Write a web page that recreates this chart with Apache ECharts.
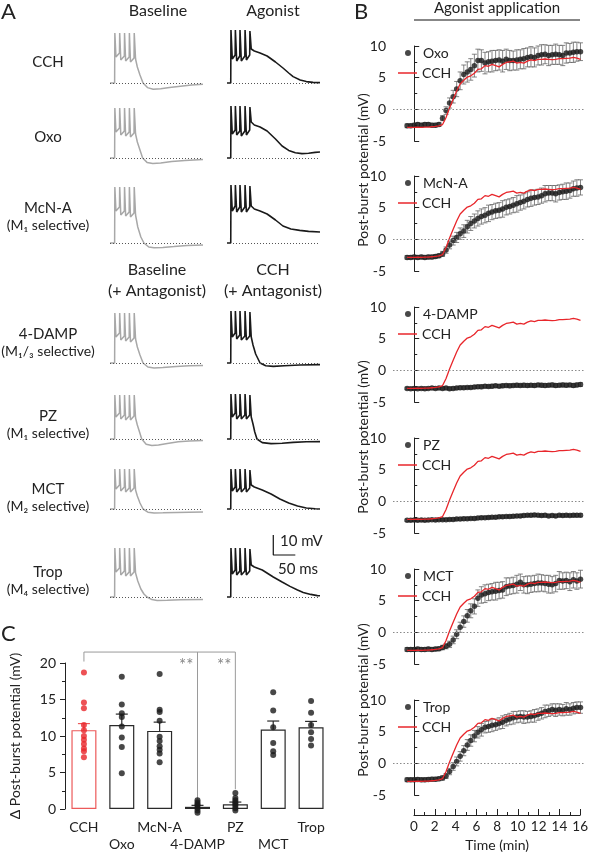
<!DOCTYPE html>
<html><head><meta charset="utf-8">
<script src="https://cdn.jsdelivr.net/npm/echarts@6/dist/echarts.min.js"></script>
<style>html,body{margin:0;padding:0;background:#fff}#c{width:591px;height:853px}</style>
</head><body><div id="c"></div>
<script>
// ---------------- Panel A: example traces (ms, mV relative to rest) ----------------
const traceRowNames = ['CCH','Oxo','McN-A','4-DAMP','PZ','MCT','Trop'];
const baseCCH = [[0,0],[10.5,0],[11,25],[13.5,13],[21.5,15],[22,25],[24.5,11.5],[32.5,13.5],[33,25],[35.5,11],[43.5,13],[44,25],[46.5,10.5],[54.5,12.5],[55,25],[58,12],[62,8],[68,4],[75,0],[85,-2.3],[98,-3.1],[115,-2.9],[135,-2.3],[160,-1.6],[185,-1.0],[211,-0.6]];
const agoCCH = [[0,0],[8.5,0],[9,26.5],[12,12],[18.5,14],[19,26.5],[22,11],[29,13.5],[29.5,26.5],[32.5,11],[40.5,13.5],[41,26.5],[44,11.5],[51.5,14],[52,26],[55,17],[62,16],[75,15],[91,13.5],[110,10.5],[127,7.5],[140,5],[150,3.2],[166,1.5],[180,0.7],[195,0.3],[211,0.2]];
const baseOxo = [[0,0],[10.5,0],[11,25],[13.5,13],[21.5,15],[22,25],[24.5,11.5],[32.5,13.5],[33,25],[35.5,11],[43.5,13],[44,25],[46.5,10.5],[54.5,12.5],[55,25],[58,12],[62,8],[68,4],[74,0],[84,-2.2],[97,-2.7],[115,-2.5],[140,-1.8],[170,-1.2],[211,-0.7]];
const agoOxo = [[0,0],[8.5,0],[9,26],[12,12],[18.5,14],[19,26],[22,11.5],[29,13.5],[29.5,26],[32.5,11],[40.5,13.5],[41,26],[44,11.5],[51.5,14],[52,25.5],[55,18],[62,16.5],[75,15.5],[91,13.5],[110,9.5],[125,6],[140,3.8],[155,2.6],[170,2.2],[185,2.4],[200,2.8],[211,3.0]];
const baseMcnA = [[0,0],[10.5,0],[11,28],[13.5,16],[21.5,18],[22,28],[24.5,14],[32.5,16],[33,28],[35.5,13.5],[43.5,15.5],[44,28],[46.5,13],[54.5,15],[55,28],[58,14],[63,8],[70,3],[77,0],[88,-2],[100,-2.4],[120,-2.2],[145,-1.8],[175,-1.3],[211,-1.0]];
const agoMcnA = [[0,0],[8.5,0],[9,29],[12,16],[18.5,18.5],[19,29],[22,15.5],[29,18],[29.5,29],[32.5,15.5],[40.5,18],[41,29],[44,15.5],[51.5,18],[52,28.5],[55,18.5],[62,17],[75,16],[91,14.5],[110,11.5],[127,8.5],[145,7],[165,6.3],[185,5.8],[211,5.5]];
const baseDamp = [[0,0],[10.5,0],[11,25],[13.5,13],[21.5,15],[22,25],[24.5,11.5],[32.5,13.5],[33,25],[35.5,11],[43.5,13],[44,25],[46.5,10.5],[54.5,12.5],[55,25],[58,12],[62,8],[68,4],[75,0],[86,-2],[100,-2.5],[120,-2.2],[150,-1.7],[180,-1.4],[211,-1.2]];
const agoDamp = [[0,0],[8.5,0],[9,26],[12,13],[18.5,15],[19,26],[22,12],[29,14],[29.5,26],[32.5,11.5],[40.5,13.5],[41,26],[44,11.5],[51.5,13.5],[52,25.5],[55,13],[59,9],[65,4.5],[75,0],[88,-1.4],[105,-1.7],[130,-1.4],[165,-1.0],[211,-0.8]];
const basePz = [[0,0],[10.5,0],[11,22],[13.5,11],[21.5,13],[22,22],[24.5,10],[32.5,12],[33,22],[35.5,9.5],[43.5,11.5],[44,22],[46.5,9.5],[54.5,11.5],[55,22],[58,10.5],[62,7],[67,3.5],[72,0],[82,-2.6],[95,-3.3],[110,-3.0],[130,-2.2],[155,-1.4],[180,-1.0],[211,-0.7]];
const agoPz = [[0,0],[8.5,0],[9,22.5],[12,11],[18.5,13],[19,22.5],[22,10],[29,12],[29.5,22.5],[32.5,10],[40.5,12],[41,22.5],[44,10],[51.5,12],[52,22],[55,11],[59,7.5],[63,3.5],[68,0],[80,-1.8],[100,-2.3],[125,-2.1],[150,-1.7],[180,-1.4],[211,-1.3]];
const baseMct = [[0,0],[10.5,0],[11,20],[13.5,10],[21.5,12],[22,20],[24.5,9],[32.5,11],[33,20],[35.5,8.5],[43.5,10.5],[44,20],[46.5,8.5],[54.5,10.5],[55,20],[58,9.5],[62,6.5],[68,3],[75,0],[86,-1.6],[100,-2.0],[120,-1.9],[150,-1.7],[180,-1.6],[211,-1.5]];
const agoMct = [[0,0],[8.5,0],[9,20],[12,9],[18.5,11],[19,20],[22,8.5],[29,10.5],[29.5,20],[32.5,8.5],[40.5,10.5],[41,20],[44,8.5],[51.5,10.5],[52,19.5],[55,12],[62,11],[80,9.5],[100,7.5],[120,5],[140,3],[160,1.5],[180,0.5],[200,0.1],[211,0]];
const baseTrop = [[0,0],[10.5,0],[11,24.5],[13.5,12.5],[21.5,14.5],[22,24.5],[24.5,11],[32.5,13],[33,24.5],[35.5,10.5],[43.5,12.5],[44,24.5],[46.5,10.5],[54.5,12.5],[55,24.5],[58,12],[63,8],[70,4],[77,1.5],[84,0],[95,-1.3],[107,-1.7],[130,-1.6],[160,-1.4],[211,-1.3]];
const agoTrop = [[0,0],[8.5,0],[9,24.5],[12,11.5],[18.5,13.5],[19,24.5],[22,11],[29,13],[29.5,24.5],[32.5,11],[40.5,13],[41,24.5],[44,11],[51.5,13],[52,24],[55,16],[62,15],[80,13.5],[105,10],[125,7.5],[143,5.3],[160,3.5],[173,2.3],[190,1.3],[205,0.7],[211,0.6]];
const scaleBarMv = 10, scaleBarMs = 50;

// ---------------- Panel B: time courses ----------------
const timeMin = [-0.67,-0.33,0,0.33,0.67,1,1.33,1.67,2,2.33,2.67,3,3.33,3.67,4,4.33,4.67,5,5.33,5.67,6,6.33,6.67,7,7.33,7.67,8,8.33,8.67,9,9.33,9.67,10,10.33,10.67,11,11.33,11.67,12,12.33,12.67,13,13.33,13.67,14,14.33,14.67,15,15.33,15.67];
const cchMean = [-2.85,-2.85,-2.85,-2.8,-2.85,-2.8,-2.8,-2.75,-2.7,-2.6,-2.4,-1.3,0.2,1.6,2.9,4.0,4.6,5.1,5.3,5.7,6.3,6.4,6.9,6.8,7.1,6.9,6.7,7.1,7.4,7.5,7.6,7.3,7.4,7.3,7.6,7.8,7.7,7.9,7.9,7.95,7.9,7.85,7.9,8.0,8.0,8.05,8.1,8.2,8.1,7.9];
const oxoMean = [-2.6,-2.6,-2.5,-2.4,-2.5,-2.4,-2.4,-2.5,-2.5,-2.4,-1.4,-0.2,1.0,2.0,3.2,4.5,5.5,5.9,6.3,6.9,7.7,7.7,7.3,7.5,7.6,7.7,7.8,7.6,7.9,7.7,7.7,7.8,7.9,8.0,8.2,8.3,8.2,8.5,8.6,8.7,8.5,8.6,8.7,8.6,8.5,8.9,8.9,9.0,9.1,9.1];
const oxoSem = [0.3,0.3,0.3,0.3,0.3,0.3,0.3,0.3,0.3,0.3,0.4,0.6,0.8,1.0,1.2,1.4,1.5,1.6,1.7,1.8,1.8,1.7,1.7,1.6,1.7,1.6,1.6,1.7,1.6,1.6,1.5,1.6,1.5,1.6,1.5,1.6,1.5,1.5,1.6,1.5,1.6,1.5,1.6,1.5,1.6,1.6,1.5,1.6,1.5,1.4];
const mcnaMean = [-2.85,-2.85,-2.8,-2.85,-2.8,-2.85,-2.8,-2.8,-2.7,-2.6,-2.3,-1.7,-0.9,-0.2,0.3,0.9,1.3,2.0,2.5,2.9,3.3,3.6,3.8,4.1,4.3,4.5,4.6,4.8,5.05,5.2,5.4,5.6,5.8,6.0,6.3,6.5,6.6,6.7,6.9,7.2,7.3,7.3,7.2,7.4,7.5,7.6,7.7,8.0,8.1,8.2];
const mcnaSem = [0.3,0.3,0.3,0.3,0.3,0.3,0.3,0.3,0.3,0.3,0.4,0.5,0.6,0.7,0.8,0.9,1.0,1.0,1.1,1.1,1.2,1.2,1.2,1.3,1.2,1.2,1.2,1.3,1.2,1.2,1.2,1.3,1.2,1.2,1.2,1.3,1.2,1.2,1.2,1.3,1.2,1.2,1.3,1.2,1.2,1.3,1.2,1.2,1.3,1.2];
const dampMean = [-2.85,-2.9,-2.85,-2.9,-2.85,-2.9,-2.85,-2.8,-2.85,-2.8,-2.85,-2.8,-2.9,-2.85,-2.8,-2.75,-2.75,-2.7,-2.7,-2.65,-2.6,-2.6,-2.5,-2.55,-2.5,-2.45,-2.5,-2.45,-2.4,-2.45,-2.4,-2.35,-2.4,-2.35,-2.4,-2.35,-2.4,-2.3,-2.35,-2.4,-2.35,-2.3,-2.4,-2.35,-2.3,-2.35,-2.3,-2.4,-2.3,-2.25];
const dampSem = [0.2,0.2,0.25,0.2,0.2,0.25,0.2,0.2,0.25,0.2,0.25,0.2,0.25,0.25,0.2,0.25,0.25,0.2,0.25,0.25,0.25,0.3,0.25,0.25,0.3,0.25,0.25,0.3,0.25,0.3,0.25,0.3,0.25,0.3,0.3,0.25,0.3,0.25,0.3,0.3,0.25,0.3,0.3,0.25,0.3,0.3,0.25,0.3,0.3,0.3];
const pzMean = [-3.0,-3.0,-2.95,-3.0,-2.95,-3.0,-2.95,-2.9,-2.95,-2.9,-2.9,-2.9,-2.85,-2.85,-2.8,-2.8,-2.75,-2.75,-2.7,-2.7,-2.65,-2.6,-2.6,-2.55,-2.5,-2.5,-2.45,-2.45,-2.4,-2.4,-2.35,-2.3,-2.3,-2.25,-2.2,-2.2,-2.15,-2.2,-2.25,-2.2,-2.3,-2.25,-2.3,-2.2,-2.25,-2.2,-2.25,-2.2,-2.2,-2.2];
const pzSem = [0.2,0.2,0.2,0.2,0.2,0.2,0.2,0.2,0.2,0.2,0.2,0.2,0.2,0.25,0.2,0.2,0.25,0.2,0.2,0.25,0.2,0.25,0.2,0.25,0.2,0.25,0.2,0.25,0.2,0.25,0.25,0.2,0.25,0.25,0.2,0.25,0.25,0.2,0.25,0.25,0.2,0.25,0.25,0.2,0.25,0.25,0.2,0.25,0.25,0.25];
const mctMean = [-2.7,-2.7,-2.7,-2.65,-2.7,-2.7,-2.65,-2.7,-2.65,-2.6,-2.4,-2.2,-1.9,-1.2,-0.3,0.8,1.7,2.6,3.4,4.1,5.4,5.9,6.1,6.3,6.4,6.5,6.6,6.7,7.2,7.3,7.4,7.6,7.9,7.5,7.5,7.6,7.7,7.8,7.8,7.7,7.6,7.5,7.7,8.2,8.1,8.2,8.0,8.3,8.1,8.4];
const mctSem = [0.3,0.3,0.3,0.3,0.3,0.3,0.3,0.3,0.3,0.3,0.35,0.4,0.5,0.6,0.7,0.8,0.9,1.0,1.1,1.2,1.3,1.3,1.4,1.3,1.3,1.4,1.3,1.3,1.4,1.3,1.3,1.4,1.3,1.3,1.4,1.3,1.3,1.4,1.3,1.3,1.4,1.3,1.3,1.4,1.3,1.3,1.4,1.3,1.3,1.4];
const tropMean = [-2.6,-2.6,-2.6,-2.55,-2.6,-2.6,-2.55,-2.5,-2.5,-2.45,-2.3,-2.0,-1.3,-0.5,0.3,1.1,2.0,2.9,3.6,4.3,4.9,5.3,5.7,5.8,6.0,6.1,6.3,6.5,6.8,7.0,7.2,7.3,7.4,7.3,7.3,7.4,7.5,7.7,7.9,8.2,8.3,8.5,8.4,8.5,8.4,8.6,8.5,8.7,8.8,8.8];
const tropSem = [0.3,0.3,0.3,0.3,0.3,0.3,0.3,0.3,0.3,0.3,0.35,0.4,0.5,0.6,0.7,0.75,0.8,0.85,0.9,0.9,0.9,1.0,0.9,0.9,1.0,0.9,0.9,1.0,0.9,0.9,1.0,0.9,0.9,1.0,0.9,0.9,1.0,0.9,0.9,1.0,0.9,0.9,1.0,0.9,0.9,1.0,0.9,0.9,0.9,0.9];
const bNames = ['Oxo','McN-A','4-DAMP','PZ','MCT','Trop'];
const timeTicks = [0,2,4,6,8,10,12,14,16];

// ---------------- Panel C: summary ----------------
const cCats = ['CCH','Oxo','McN-A','4-DAMP','PZ','MCT','Trop'];
const cMean = [10.8,11.5,10.7,0.3,0.65,10.9,11.2];
const cSem = [0.9,1.5,1.2,0.2,0.3,1.15,0.8];
const ptsCCH = [18.7,14.6,13.8,11.5,10.8,10.0,9.5,8.9,8.3,7.9,7.1];
const ptsOxo = [18.1,14.3,13.1,12.6,11.3,9.8,8.5,4.9];
const ptsMcnA = [18.5,13.6,13.3,12.1,9.9,9.3,8.6,8.1,7.6,6.4];
const ptsDamp = [1.2,0.9,0.65,0.45,0.15,-0.2,-0.5];
const ptsPz = [2.2,1.5,1.2,0.9,0.7,0.4,0.1,-0.2];
const ptsMct = [16.0,13.5,11.2,9.05,7.9,7.4];
const ptsTrop = [14.8,13.2,11.5,10.5,9.6,8.7];
const bracketMain = [['CCH',20.2],['CCH',21.5],['PZ',21.5],['PZ',2.7]];
const bracketDamp = [['4-DAMP',21.5],['4-DAMP',1.35]];
const starMarks = [['4-DAMP',19.6],['PZ',19.6]];

// ================= build option =================
const FF = 'Lato, "Open Sans", "DejaVu Sans", sans-serif';
const TXT = '#222';
const grids = [], xAxes = [], yAxes = [], series = [], legends = [], graphics = [];
function addGrid(g, x, y) {
  grids.push(g);
  const i = grids.length - 1;
  xAxes.push(Object.assign({ gridIndex: i }, x));
  yAxes.push(Object.assign({ gridIndex: i }, y));
  return i;
}

// ---- A ----
const rowBaseY = [83, 158, 243, 363, 439, 509, 597];
const traceBase = [baseCCH, baseOxo, baseMcnA, baseDamp, basePz, baseMct, baseTrop];
const traceAgo = [agoCCH, agoOxo, agoMcnA, agoDamp, agoPz, agoMct, agoTrop];
let tropAgoGrid = 0;
rowBaseY.forEach((yb, r) => {
  [0, 1].forEach(col => {
    const gi = addGrid({ left: col ? 227 : 110, top: yb - 60, width: 93, height: 72 },
      { type: 'value', min: 0, max: 211, show: false },
      { type: 'value', min: -6, max: 30, show: false });
    if (r === 6 && col === 1) tropAgoGrid = gi;
    series.push({
      type: 'line', xAxisIndex: gi, yAxisIndex: gi, data: col ? traceAgo[r] : traceBase[r],
      symbol: 'none', clip: false, silent: true, z: 3,
      lineStyle: { color: col ? '#1a1a1a' : '#a8a8a8', width: col ? 1.6 : 1.5 },
      markLine: { silent: true, symbol: 'none', label: { show: false },
        lineStyle: { color: '#555', type: [1, 2], width: 1 }, data: [{ yAxis: 0 }] }
    });
  });
});
// scale bar (10 mV, 50 ms)
series.push({
  type: 'line', xAxisIndex: tropAgoGrid, yAxisIndex: tropAgoGrid, symbol: 'none', clip: false, silent: true,
  lineStyle: { color: '#111', width: 1.2 },
  data: [[105, 21 + scaleBarMv], [105, 21], [105 + scaleBarMs, 21]]
});

// ---- B ----
const bTops = [46, 176, 307, 438, 569, 700];
const bMeans = [oxoMean, mcnaMean, dampMean, pzMean, mctMean, tropMean];
const bSems = [oxoSem, mcnaSem, dampSem, pzSem, mctSem, tropSem];
function errRenderB(params, api) {
  const x = api.value(0), lo = api.value(1), hi = api.value(2);
  const a = api.coord([x, hi]), b = api.coord([x, lo]);
  const st = { stroke: '#666', lineWidth: 0.8 };
  const w = 2.5;
  return { type: 'group', children: [
    { type: 'line', shape: { x1: a[0], y1: a[1], x2: b[0], y2: b[1] }, style: st },
    { type: 'line', shape: { x1: a[0] - w, y1: a[1], x2: a[0] + w, y2: a[1] }, style: st },
    { type: 'line', shape: { x1: b[0] - w, y1: b[1], x2: b[0] + w, y2: b[1] }, style: st }
  ] };
}
bTops.forEach((top, k) => {
  const gi = addGrid({ left: 393, top: top, width: 191, height: 95 },
    { type: 'value', min: -2, max: 16, show: false },
    { type: 'value', min: -5, max: 10, interval: 5,
      axisLine: { show: true, lineStyle: { color: TXT, width: 1 } },
      axisTick: { show: true, inside: true, length: 5, lineStyle: { color: TXT } },
      minorTick: { show: true, splitNumber: 2, length: 3, lineStyle: { color: TXT } },
      splitLine: { show: false },
      axisLabel: { fontSize: 14, color: TXT, margin: 7, fontFamily: FF } });
  const mean = bMeans[k], sem = bSems[k];
  series.push({ type: 'custom', xAxisIndex: gi, yAxisIndex: gi, z: 2, silent: true,
    renderItem: errRenderB, data: timeMin.map((t, i) => [t, mean[i] - sem[i], mean[i] + sem[i]]) });
  series.push({ type: 'scatter', name: bNames[k], xAxisIndex: gi, yAxisIndex: gi, z: 3,
    symbolSize: 5.5, itemStyle: { color: '#1a1a1a' }, data: timeMin.map((t, i) => [t, mean[i]]),
    markLine: { silent: true, symbol: 'none', label: { show: false },
      lineStyle: { color: '#8a8a8a', type: [1.5, 2], width: 1 }, data: [{ yAxis: 0 }] } });
  series.push({ type: 'line', name: 'CCH', xAxisIndex: gi, yAxisIndex: gi, z: 4,
    symbol: 'none', lineStyle: { color: '#e8262b', width: 1.3 }, itemStyle: { color: '#e8262b' },
    data: timeMin.map((t, i) => [t, cchMean[i]]) });
  legends.push({ data: [{ name: bNames[k], icon: 'circle' }], left: 405, top: top + 7 - 8, padding: 0,
    itemWidth: 6, itemHeight: 6, selectedMode: false,
    textStyle: { fontSize: 14, color: TXT, fontFamily: FF, lineHeight: 16, padding: [0, 0, 0, 7] } });
  legends.push({ data: [{ name: 'CCH', icon: 'rect' }], left: 398, top: top + 27 - 8, padding: 0,
    itemWidth: 19, itemHeight: 1.5, selectedMode: false,
    textStyle: { fontSize: 14, color: TXT, fontFamily: FF, lineHeight: 16 } });
});
// time axis
const gT = addGrid({ left: 414, top: 790, width: 170, height: 26 },
  { type: 'value', min: timeTicks[0], max: timeTicks[timeTicks.length - 1], interval: 2, position: 'bottom',
    axisLine: { show: true, lineStyle: { color: TXT, width: 1 } },
    axisTick: { show: true, inside: true, length: 6, lineStyle: { color: TXT } },
    minorTick: { show: true, splitNumber: 2, length: 3, lineStyle: { color: TXT } },
    splitLine: { show: false },
    axisLabel: { fontSize: 13.5, color: TXT, margin: 5, fontFamily: FF },
    name: 'Time (min)', nameLocation: 'middle', nameGap: 23,
    nameTextStyle: { fontSize: 14, color: TXT, fontFamily: FF } },
  { type: 'value', min: 0, max: 1, show: false });
series.push({ type: 'line', xAxisIndex: gT, yAxisIndex: gT, data: [] });

// ---- C ----
const gC = addGrid({ left: 65, top: 663, width: 265, height: 152 },
  { type: 'category', data: cCats, axisLine: { show: false }, axisTick: { show: false },
    axisLabel: { interval: 0, fontSize: 14, color: TXT, fontFamily: FF, margin: 10, lineHeight: 17,
      formatter: (v, i) => (i % 2 ? '\n' + v : v) } },
  { type: 'value', min: 0, max: 20, interval: 5,
    axisLine: { show: true, lineStyle: { color: TXT, width: 1 } },
    axisTick: { show: true, length: 5, lineStyle: { color: TXT } },
    minorTick: { show: true, splitNumber: 2, length: 3, lineStyle: { color: TXT } },
    splitLine: { show: false },
    axisLabel: { fontSize: 14, color: TXT, margin: 9, fontFamily: FF },
    name: 'Δ Post-burst potential (mV)', nameLocation: 'middle', nameGap: 43,
    nameTextStyle: { fontSize: 14, color: TXT, fontFamily: FF } });
const RED = '#e8262b', PINK = '#ec5a5a';
series.push({ type: 'bar', xAxisIndex: gC, yAxisIndex: gC, barWidth: 25, z: 2, silent: true,
  itemStyle: { color: '#fff', borderWidth: 1.2, borderColor: '#2a2a2a' },
  data: cMean.map((v, i) => ({ value: v, itemStyle: { borderColor: i === 0 ? PINK : '#2a2a2a' } })) });
series.push({ type: 'custom', xAxisIndex: gC, yAxisIndex: gC, z: 3, silent: true,
  data: cMean.map((v, i) => [i, v, v + cSem[i]]),
  renderItem: (params, api) => {
    const x = api.value(0);
    const a = api.coord([x, api.value(1)]), b = api.coord([x, api.value(2)]);
    const st = { stroke: params.dataIndex === 0 ? PINK : '#2a2a2a', lineWidth: 1.2 };
    return { type: 'group', children: [
      { type: 'line', shape: { x1: a[0], y1: a[1], x2: b[0], y2: b[1] }, style: st },
      { type: 'line', shape: { x1: b[0] - 6, y1: b[1], x2: b[0] + 6, y2: b[1] }, style: st }
    ] };
  } });
series.push({ type: 'scatter', xAxisIndex: gC, yAxisIndex: gC, z: 4, clip: false, silent: true,
  symbolSize: 6, itemStyle: { color: RED }, data: ptsCCH.map(v => ['CCH', v]) });
const blackPts = [['Oxo', ptsOxo], ['McN-A', ptsMcnA], ['4-DAMP', ptsDamp], ['PZ', ptsPz], ['MCT', ptsMct], ['Trop', ptsTrop]];
series.push({ type: 'scatter', xAxisIndex: gC, yAxisIndex: gC, z: 4, clip: false, silent: true,
  symbolSize: 6, itemStyle: { color: '#1a1a1a' },
  data: blackPts.flatMap(([c, arr]) => arr.map(v => [c, v])) });
[bracketMain, bracketDamp].forEach(d => series.push({ type: 'line', xAxisIndex: gC, yAxisIndex: gC, z: 1,
  clip: false, silent: true, symbol: 'none', lineStyle: { color: '#9a9a9a', width: 1 }, data: d }));
series.push({ type: 'scatter', xAxisIndex: gC, yAxisIndex: gC, symbolSize: 0, clip: false, silent: true,
  data: starMarks, label: { show: true, formatter: '**', position: 'left', distance: 4,
    fontSize: 17, color: '#666', fontFamily: FF } });

// ---- texts ----
function txt(text, x, y, size, align, extra) {
  graphics.push(Object.assign({ type: 'text', x: x, y: y, silent: true,
    style: { text: text, fontSize: size, fontFamily: FF, fill: TXT, align: align || 'center', verticalAlign: 'middle' } }, extra || {}));
}
txt('A', 1, 12, 22, 'left');
txt('B', 354, 12, 22, 'left');
txt('C', 1, 634, 22, 'left');
txt('Baseline', 158, 11, 16);
txt('Agonist', 273, 11, 16);
txt('Baseline', 157, 270, 16);
txt('(+ Antagonist)', 157, 291, 16);
txt('CCH', 273, 270, 16);
txt('(+ Antagonist)', 273, 291, 16);
const rowLabelY = [[62], [137], [208, 225], [334, 351], [416, 433], [489, 506], [572, 589]];
const rowSub = [null, null, '(M₁ selective)', '(M₁/₃ selective)', '(M₁ selective)', '(M₂ selective)', '(M₄ selective)'];
traceRowNames.forEach((n, r) => {
  txt(n, 48, rowLabelY[r][0], 15);
  if (rowSub[r]) txt(rowSub[r], 48, rowLabelY[r][1], 14);
});
txt('10 mV', 280, 541, 15, 'left');
txt('50 ms', 278, 569, 15, 'left');
txt('Agonist application', 497, 8, 15);
graphics.push({ type: 'line', silent: true, shape: { x1: 414, y1: 20, x2: 580, y2: 20 }, style: { stroke: '#111', lineWidth: 1.2 } });
[170, 437, 700].forEach(cy => txt('Post-burst potential (mV)', 363, cy, 14, 'center', { rotation: Math.PI / 2 }));

const chart = echarts.init(document.getElementById('c'), null, { renderer: 'canvas' });
chart.setOption({
  animation: false,
  backgroundColor: '#fff',
  textStyle: { fontFamily: FF },
  grid: grids, xAxis: xAxes, yAxis: yAxes, series: series, legend: legends, graphic: graphics
});
</script></body></html>
